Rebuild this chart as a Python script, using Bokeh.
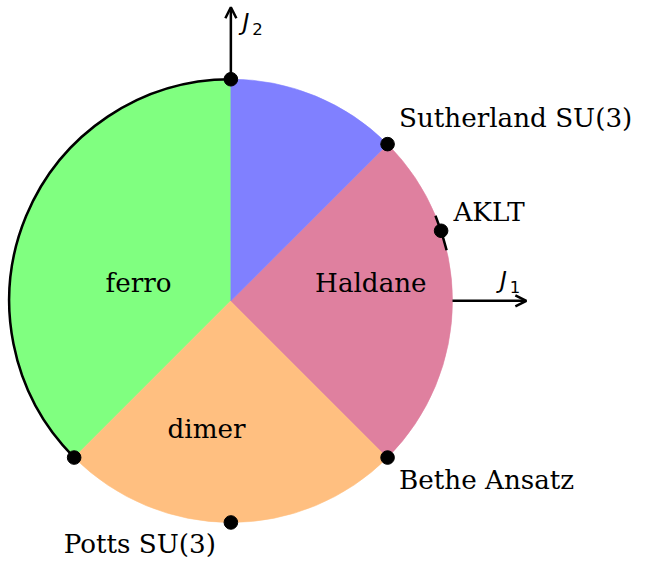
import math
from bokeh.plotting import figure
from bokeh.models import Range1d, Arrow, OpenHead
from bokeh.core.properties import value
from bokeh.embed import file_html
from bokeh.resources import INLINE

# ---- data ----
phase_names = ["ferro", "dimer", "Haldane", "critical"]
phase_start_deg = [90, 225, -45, 45]
phase_end_deg = [225, 315, 45, 90]
phase_colors = ["#80FF80", "#FFBF80", "#DF809F", "#8080FF"]

point_names = ["", "Sutherland SU(3)", "AKLT", "Bethe Ansatz", "Potts SU(3)", ""]
point_deg = [90, 45, math.degrees(math.atan(1 / 3)), -45, -90, 225]

ferro_boundary_deg = [90, 225]
aklt_tick_deg = [13.2, 22.6]

# ---- layout ----
W, H = 633, 561
S = 0.972            # overall scale of the drawing
CX, CY, R = 237, 309, 228  # centre and radius in the unscaled drawing


def dx(px):
    return (px - CX) / R


def dy(py):
    return (CY - py) / R


p = figure(width=W, height=H, output_backend="svg", toolbar_location=None,
           x_range=Range1d(dx(0), dx(W / S)),
           y_range=Range1d(dy(H / S), dy(0)),
           min_border=0, outline_line_color=None)
p.axis.visible = False
p.grid.visible = False

p.wedge(x=[0] * 4, y=[0] * 4, radius=1, start_angle=phase_start_deg,
        end_angle=phase_end_deg, start_angle_units="deg", end_angle_units="deg",
        fill_color=phase_colors, line_color=phase_colors, line_width=0.6)

lw = 2.6 * S
p.arc(x=0, y=0, radius=1, start_angle=ferro_boundary_deg[0], end_angle=ferro_boundary_deg[1],
      start_angle_units="deg", end_angle_units="deg", line_color="black", line_width=lw)
p.arc(x=0, y=0, radius=1, start_angle=aklt_tick_deg[0], end_angle=aklt_tick_deg[1],
      start_angle_units="deg", end_angle_units="deg", line_color="black", line_width=lw)

# axes
p.add_layout(Arrow(x_start=0, y_start=1, x_end=0, y_end=dy(7),
                   line_width=lw, end=OpenHead(size=11, line_width=lw)))
p.add_layout(Arrow(x_start=1, y_start=0, x_end=dx(541), y_end=0,
                   line_width=lw, end=OpenHead(size=11, line_width=lw)))

px = [math.cos(math.radians(a)) for a in point_deg]
py = [math.sin(math.radians(a)) for a in point_deg]
p.scatter(px, py, size=14 * S, color="black")

serif = value("DejaVu Serif")
fs = f"{27 * S:.1f}px"
# phase labels
p.text(x=[dx(142), dx(212), dx(381)], y=[dy(291), dy(441), dy(291)],
       text=["ferro", "dimer", "Haldane"], text_font=serif, text_font_size=fs,
       text_align="center", text_baseline="middle", text_color="black")
# point labels
lab_x = [dx(410), dx(466), dx(410), dx(65)]
lab_y = [dy(121), dy(218), dy(493), dy(559)]
p.text(x=lab_x, y=lab_y, text=point_names[1:5], text_font=serif, text_font_size=fs,
       text_align="left", text_baseline="middle", text_color="black")

# axis labels
sans = value("DejaVu Sans")
p.text(x=[dx(249), dx(514)], y=[dy(22), dy(287)], text=["J", "J"], text_font=sans,
       text_font_size=f"{24 * S:.1f}px", text_font_style="italic", text_align="left",
       text_baseline="middle")
p.text(x=[dx(259), dx(524)], y=[dy(29), dy(295)], text=["2", "1"], text_font=sans,
       text_font_size=f"{17 * S:.1f}px", text_align="left", text_baseline="middle")

open("out.html", "w").write(file_html(p, INLINE))
